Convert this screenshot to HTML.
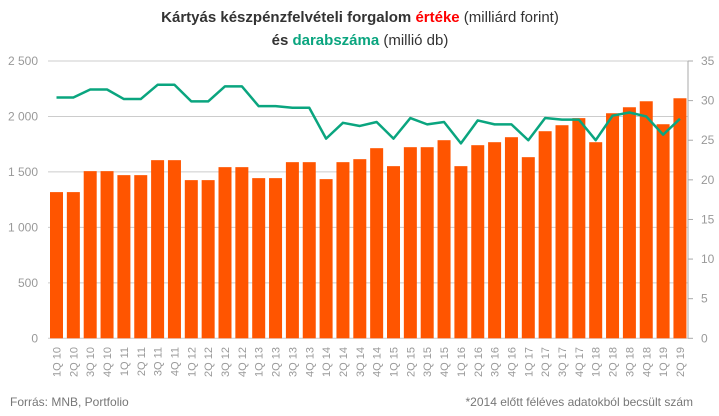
<!DOCTYPE html>
<html><head><meta charset="utf-8"><style>
body{margin:0;background:#fff;width:719px;height:416px;overflow:hidden;font-family:"Liberation Sans",sans-serif}
</style></head><body>
<svg id="chart" width="719" height="416" style="display:block">
<text x="360" y="22" text-anchor="middle" font-size="15" fill="#333"><tspan font-weight="bold">Kártyás készpénzfelvételi forgalom </tspan><tspan font-weight="bold" fill="#f00">értéke</tspan><tspan> (milliárd forint)</tspan></text>
<text x="360" y="45" text-anchor="middle" font-size="15" fill="#333"><tspan font-weight="bold">és </tspan><tspan font-weight="bold" fill="#0aa57f">darabszáma</tspan><tspan> (millió db)</tspan></text>
<g id="grid"></g><g id="bars"></g><g id="line"></g><g id="axes"></g>
<text x="10" y="406" font-size="12" fill="#777">Forrás:  MNB, Portfolio</text>
<text x="693" y="406" text-anchor="end" font-size="12" fill="#777">*2014 előtt féléves adatokból becsült szám</text>
</svg>
<script>
const categories=["1Q 10","2Q 10","3Q 10","4Q 10","1Q 11","2Q 11","3Q 11","4Q 11","1Q 12","2Q 12","3Q 12","4Q 12","1Q 13","2Q 13","3Q 13","4Q 13","1Q 14","2Q 14","3Q 14","4Q 14","1Q 15","2Q 15","3Q 15","4Q 15","1Q 16","2Q 16","3Q 16","4Q 16","1Q 17","2Q 17","3Q 17","4Q 17","1Q 18","2Q 18","3Q 18","4Q 18","1Q 19","2Q 19"];
const valueSeries=[1318,1318,1507,1507,1471,1471,1606,1606,1426,1426,1543,1543,1444,1444,1588,1588,1435,1588,1615,1714,1552,1723,1723,1786,1552,1741,1768,1813,1633,1867,1921,1985,1768,2029,2083,2137,1930,2164];
const countSeries=[30.4,30.4,31.4,31.4,30.2,30.2,32.0,32.0,29.9,29.9,31.8,31.8,29.3,29.3,29.1,29.1,25.2,27.2,26.8,27.3,25.2,27.8,27.0,27.3,24.6,27.5,27.0,27.0,25.0,27.8,27.6,27.6,25.0,28.1,28.5,28.0,25.7,27.7];
const leftTicks=[0,500,1000,1500,2000,2500];
const leftTickLabels=["0","500","1 000","1 500","2 000","2 500"];
const rightTicks=[0,5,10,15,20,25,30,35];

const NS="http://www.w3.org/2000/svg";
const X0=48,X1=688,Y0=338.3,Y1=61;
const yL=v=>Y0-(v/2500)*(Y0-Y1);
const yR=v=>Y0-(v/35)*(Y0-Y1);
const step=16.85,first=56.5;
const xC=i=>first+i*step;
function mk(tag,attrs,parent){const e=document.createElementNS(NS,tag);for(const k in attrs)e.setAttribute(k,attrs[k]);parent.appendChild(e);return e;}
const grid=document.getElementById('grid'),bars=document.getElementById('bars'),line=document.getElementById('line'),axes=document.getElementById('axes');
leftTicks.forEach((t,i)=>{
  const g=mk('line',{x1:X0,x2:X1,y1:yL(t),y2:yL(t),stroke:'#ccc','stroke-width':1},grid);
  
  
  const l=mk('text',{x:38,y:yL(t)+4,'text-anchor':'end','font-size':12,fill:'#999'},axes);
  l.textContent=leftTickLabels[i];
  
  
});
const ra=mk('line',{x1:X1,x2:X1,y1:Y1,y2:Y0,stroke:'#aaa','stroke-width':1},axes);


rightTicks.forEach(t=>{
  const tk=mk('line',{x1:X1,x2:X1+5,y1:yR(t),y2:yR(t),stroke:'#aaa'},axes);
  
  
  const l=mk('text',{x:X1+13,y:yR(t)+4,'font-size':12,fill:'#999'},axes);
  l.textContent=t;
  
  
});
valueSeries.forEach((v,i)=>{
  const b=mk('rect',{x:xC(i)-6.5,y:yL(v),width:13,height:Y0-yL(v),fill:'#ff5500'},bars);
  
  
  const l=mk('text',{x:0,y:0,'font-size':11,fill:'#999','text-anchor':'end',transform:`translate(${xC(i)+4},347) rotate(-90)`},axes);
  l.textContent=categories[i];
  
  
});
const pts=countSeries.map((v,i)=>xC(i)+','+yR(v)).join(' ');
const pl=mk('polyline',{points:pts,fill:'none',stroke:'#0aa57f','stroke-width':2.5,'stroke-linejoin':'round'},line);


</script>
</body></html>
